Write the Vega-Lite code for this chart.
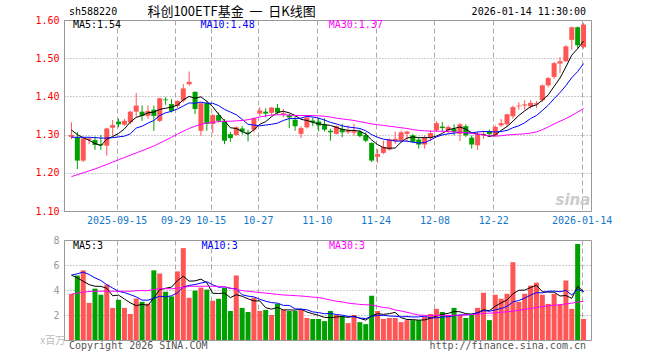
{
  "$schema": "https://vega.github.io/schema/vega-lite/v6.json",
  "background": "white",
  "padding": {"left": 34, "top": 5, "right": 5, "bottom": 2},
  "bounds": "flush",
  "spacing": 29,
  "config": {
    "view": {"stroke": "#999999", "strokeWidth": 1},
    "axis": {"labelFont": "DejaVu Sans Mono", "labelFontSize": 10, "title": null, "domain": false, "ticks": false, "labelOverlap": false},
    "text": {"font": "DejaVu Sans Mono", "fontSize": 10}
  },
  "datasets": {
    "k": [
      {"i":0,"d":"2025-09-03","o":1.294,"h":1.332,"l":1.288,"c":1.299,"m5":1.312,"m10":1.293,"m30":1.190,"v":3.68,"v5":5.19,"v10":5.19,"v30":3.68},
      {"i":1,"d":"2025-09-04","o":1.293,"h":1.307,"l":1.210,"c":1.232,"m5":1.300,"m10":1.293,"m30":1.195,"v":5.16,"v5":4.97,"v10":5.30,"v30":3.75},
      {"i":2,"d":"2025-09-05","o":1.232,"h":1.292,"l":1.228,"c":1.290,"m5":1.292,"m10":1.293,"m30":1.200,"v":5.57,"v5":4.70,"v10":5.43,"v30":3.82},
      {"i":3,"d":"2025-09-08","o":1.286,"h":1.293,"l":1.275,"c":1.290,"m5":1.285,"m10":1.293,"m30":1.205,"v":2.97,"v5":4.43,"v10":5.24,"v30":3.88},
      {"i":4,"d":"2025-09-09","o":1.286,"h":1.295,"l":1.260,"c":1.273,"m5":1.277,"m10":1.292,"m30":1.210,"v":4.11,"v5":4.30,"v10":4.97,"v30":3.90},
      {"i":5,"d":"2025-09-10","o":1.275,"h":1.299,"l":1.260,"c":1.272,"m5":1.271,"m10":1.291,"m30":1.216,"v":3.62,"v5":4.29,"v10":4.76,"v30":3.90},
      {"i":6,"d":"2025-09-11","o":1.271,"h":1.318,"l":1.245,"c":1.316,"m5":1.288,"m10":1.291,"m30":1.222,"v":4.43,"v5":4.14,"v10":4.43,"v30":3.90},
      {"i":7,"d":"2025-09-12","o":1.318,"h":1.338,"l":1.297,"c":1.325,"m5":1.295,"m10":1.292,"m30":1.228,"v":2.57,"v5":3.54,"v10":4.16,"v30":3.90},
      {"i":8,"d":"2025-09-15","o":1.334,"h":1.342,"l":1.319,"c":1.327,"m5":1.303,"m10":1.294,"m30":1.234,"v":3.22,"v5":3.59,"v10":3.89,"v30":3.90},
      {"i":9,"d":"2025-09-16","o":1.326,"h":1.341,"l":1.323,"c":1.336,"m5":1.315,"m10":1.296,"m30":1.240,"v":2.57,"v5":3.28,"v10":3.79,"v30":3.90},
      {"i":10,"d":"2025-09-17","o":1.332,"h":1.362,"l":1.327,"c":1.360,"m5":1.333,"m10":1.302,"m30":1.246,"v":2.08,"v5":2.97,"v10":3.63,"v30":3.90},
      {"i":11,"d":"2025-09-18","o":1.360,"h":1.409,"l":1.345,"c":1.376,"m5":1.345,"m10":1.317,"m30":1.252,"v":3.32,"v5":2.75,"v10":3.45,"v30":3.95},
      {"i":12,"d":"2025-09-19","o":1.360,"h":1.376,"l":1.336,"c":1.349,"m5":1.350,"m10":1.322,"m30":1.258,"v":3.05,"v5":2.85,"v10":3.19,"v30":3.95},
      {"i":13,"d":"2025-09-22","o":1.349,"h":1.376,"l":1.341,"c":1.362,"m5":1.357,"m10":1.330,"m30":1.264,"v":2.90,"v5":2.78,"v10":3.19,"v30":3.95},
      {"i":14,"d":"2025-09-23","o":1.365,"h":1.376,"l":1.310,"c":1.349,"m5":1.359,"m10":1.337,"m30":1.270,"v":5.57,"v5":3.38,"v10":3.33,"v30":4.05},
      {"i":15,"d":"2025-09-24","o":1.336,"h":1.397,"l":1.333,"c":1.395,"m5":1.366,"m10":1.350,"m30":1.278,"v":5.32,"v5":4.03,"v10":3.50,"v30":4.10},
      {"i":16,"d":"2025-09-25","o":1.392,"h":1.398,"l":1.378,"c":1.390,"m5":1.369,"m10":1.357,"m30":1.285,"v":3.86,"v5":4.14,"v10":3.45,"v30":4.10},
      {"i":17,"d":"2025-09-26","o":1.380,"h":1.393,"l":1.358,"c":1.362,"m5":1.372,"m10":1.361,"m30":1.293,"v":3.49,"v5":4.23,"v10":3.54,"v30":4.10},
      {"i":18,"d":"2025-09-29","o":1.375,"h":1.390,"l":1.370,"c":1.388,"m5":1.377,"m10":1.367,"m30":1.301,"v":5.49,"v5":4.75,"v10":3.77,"v30":4.15},
      {"i":19,"d":"2025-09-30","o":1.389,"h":1.432,"l":1.384,"c":1.421,"m5":1.391,"m10":1.375,"m30":1.309,"v":7.35,"v5":5.10,"v10":4.24,"v30":4.20},
      {"i":20,"d":"2025-10-09","o":1.432,"h":1.465,"l":1.428,"c":1.438,"m5":1.400,"m10":1.383,"m30":1.316,"v":3.38,"v5":4.71,"v10":4.37,"v30":4.30},
      {"i":21,"d":"2025-10-10","o":1.412,"h":1.413,"l":1.354,"c":1.367,"m5":1.395,"m10":1.382,"m30":1.322,"v":3.95,"v5":4.73,"v10":4.44,"v30":4.30},
      {"i":22,"d":"2025-10-13","o":1.310,"h":1.384,"l":1.297,"c":1.382,"m5":1.399,"m10":1.385,"m30":1.327,"v":4.19,"v5":4.87,"v10":4.55,"v30":4.30},
      {"i":23,"d":"2025-10-14","o":1.382,"h":1.389,"l":1.310,"c":1.328,"m5":1.387,"m10":1.382,"m30":1.330,"v":4.03,"v5":4.58,"v10":4.66,"v30":4.30},
      {"i":24,"d":"2025-10-15","o":1.328,"h":1.354,"l":1.304,"c":1.351,"m5":1.373,"m10":1.382,"m30":1.332,"v":3.14,"v5":3.74,"v10":4.42,"v30":4.30},
      {"i":25,"d":"2025-10-16","o":1.351,"h":1.358,"l":1.332,"c":1.336,"m5":1.353,"m10":1.376,"m30":1.334,"v":3.30,"v5":3.72,"v10":4.22,"v30":4.30},
      {"i":26,"d":"2025-10-17","o":1.336,"h":1.341,"l":1.275,"c":1.284,"m5":1.336,"m10":1.366,"m30":1.335,"v":4.16,"v5":3.76,"v10":4.25,"v30":4.25},
      {"i":27,"d":"2025-10-20","o":1.301,"h":1.307,"l":1.281,"c":1.291,"m5":1.318,"m10":1.359,"m30":1.335,"v":2.32,"v5":3.39,"v10":4.13,"v30":4.15},
      {"i":28,"d":"2025-10-21","o":1.299,"h":1.322,"l":1.297,"c":1.319,"m5":1.316,"m10":1.352,"m30":1.336,"v":5.16,"v5":3.62,"v10":4.10,"v30":4.05},
      {"i":29,"d":"2025-10-22","o":1.316,"h":1.322,"l":1.300,"c":1.308,"m5":1.308,"m10":1.340,"m30":1.337,"v":2.57,"v5":3.50,"v10":3.62,"v30":3.95},
      {"i":30,"d":"2025-10-23","o":1.306,"h":1.313,"l":1.282,"c":1.303,"m5":1.301,"m10":1.327,"m30":1.339,"v":2.24,"v5":3.29,"v10":3.51,"v30":3.90},
      {"i":31,"d":"2025-10-24","o":1.313,"h":1.345,"l":1.306,"c":1.343,"m5":1.313,"m10":1.325,"m30":1.342,"v":3.38,"v5":3.13,"v10":3.45,"v30":3.85},
      {"i":32,"d":"2025-10-27","o":1.355,"h":1.372,"l":1.348,"c":1.363,"m5":1.327,"m10":1.323,"m30":1.346,"v":2.32,"v5":3.13,"v10":3.26,"v30":3.80},
      {"i":33,"d":"2025-10-28","o":1.360,"h":1.369,"l":1.345,"c":1.355,"m5":1.334,"m10":1.325,"m30":1.349,"v":2.41,"v5":2.58,"v10":3.10,"v30":3.75},
      {"i":34,"d":"2025-10-29","o":1.357,"h":1.372,"l":1.350,"c":1.371,"m5":1.347,"m10":1.327,"m30":1.351,"v":2.00,"v5":2.47,"v10":2.99,"v30":3.70},
      {"i":35,"d":"2025-10-30","o":1.370,"h":1.380,"l":1.352,"c":1.358,"m5":1.358,"m10":1.330,"m30":1.352,"v":2.89,"v5":2.60,"v10":2.95,"v30":3.65},
      {"i":36,"d":"2025-10-31","o":1.352,"h":1.367,"l":1.345,"c":1.356,"m5":1.361,"m10":1.337,"m30":1.352,"v":2.41,"v5":2.41,"v10":2.77,"v30":3.60},
      {"i":37,"d":"2025-11-03","o":1.351,"h":1.354,"l":1.317,"c":1.345,"m5":1.357,"m10":1.342,"m30":1.351,"v":2.32,"v5":2.41,"v10":2.77,"v30":3.58},
      {"i":38,"d":"2025-11-04","o":1.339,"h":1.350,"l":1.310,"c":1.322,"m5":1.350,"m10":1.342,"m30":1.350,"v":2.32,"v5":2.39,"v10":2.49,"v30":3.55},
      {"i":39,"d":"2025-11-05","o":1.302,"h":1.322,"l":1.291,"c":1.317,"m5":1.340,"m10":1.343,"m30":1.350,"v":2.41,"v5":2.47,"v10":2.47,"v30":3.52},
      {"i":40,"d":"2025-11-06","o":1.319,"h":1.348,"l":1.316,"c":1.345,"m5":1.337,"m10":1.348,"m30":1.350,"v":1.76,"v5":2.24,"v10":2.42,"v30":3.48},
      {"i":41,"d":"2025-11-07","o":1.337,"h":1.345,"l":1.322,"c":1.332,"m5":1.332,"m10":1.346,"m30":1.350,"v":1.68,"v5":2.10,"v10":2.25,"v30":3.43},
      {"i":42,"d":"2025-11-10","o":1.334,"h":1.343,"l":1.308,"c":1.324,"m5":1.328,"m10":1.343,"m30":1.349,"v":1.68,"v5":1.97,"v10":2.19,"v30":3.40},
      {"i":43,"d":"2025-11-11","o":1.326,"h":1.343,"l":1.308,"c":1.313,"m5":1.326,"m10":1.338,"m30":1.348,"v":1.51,"v5":1.81,"v10":2.10,"v30":3.30},
      {"i":44,"d":"2025-11-12","o":1.310,"h":1.315,"l":1.284,"c":1.306,"m5":1.324,"m10":1.332,"m30":1.346,"v":2.32,"v5":1.79,"v10":2.13,"v30":3.20},
      {"i":45,"d":"2025-11-13","o":1.302,"h":1.324,"l":1.300,"c":1.322,"m5":1.319,"m10":1.328,"m30":1.343,"v":2.00,"v5":1.84,"v10":2.04,"v30":3.10},
      {"i":46,"d":"2025-11-14","o":1.315,"h":1.328,"l":1.293,"c":1.306,"m5":1.314,"m10":1.323,"m30":1.341,"v":1.89,"v5":1.88,"v10":1.99,"v30":3.05},
      {"i":47,"d":"2025-11-17","o":1.306,"h":1.324,"l":1.302,"c":1.310,"m5":1.311,"m10":1.320,"m30":1.339,"v":1.35,"v5":1.81,"v10":1.89,"v30":2.95},
      {"i":48,"d":"2025-11-18","o":1.305,"h":1.328,"l":1.297,"c":1.309,"m5":1.311,"m10":1.318,"m30":1.337,"v":2.00,"v5":1.91,"v10":1.86,"v30":2.90},
      {"i":49,"d":"2025-11-19","o":1.308,"h":1.313,"l":1.293,"c":1.296,"m5":1.309,"m10":1.316,"m30":1.334,"v":1.43,"v5":1.73,"v10":1.76,"v30":2.85},
      {"i":50,"d":"2025-11-20","o":1.299,"h":1.306,"l":1.280,"c":1.284,"m5":1.301,"m10":1.310,"m30":1.331,"v":1.27,"v5":1.59,"v10":1.71,"v30":2.82},
      {"i":51,"d":"2025-11-21","o":1.278,"h":1.280,"l":1.228,"c":1.232,"m5":1.286,"m10":1.300,"m30":1.328,"v":3.54,"v5":1.92,"v10":1.90,"v30":2.80},
      {"i":52,"d":"2025-11-24","o":1.242,"h":1.262,"l":1.226,"c":1.249,"m5":1.274,"m10":1.293,"m30":1.326,"v":2.32,"v5":2.11,"v10":1.96,"v30":2.70},
      {"i":53,"d":"2025-11-25","o":1.252,"h":1.284,"l":1.249,"c":1.267,"m5":1.266,"m10":1.288,"m30":1.324,"v":1.68,"v5":2.05,"v10":1.98,"v30":2.60},
      {"i":54,"d":"2025-11-26","o":1.261,"h":1.290,"l":1.258,"c":1.287,"m5":1.264,"m10":1.286,"m30":1.322,"v":1.76,"v5":2.11,"v10":1.92,"v30":2.55},
      {"i":55,"d":"2025-11-27","o":1.283,"h":1.308,"l":1.276,"c":1.289,"m5":1.265,"m10":1.283,"m30":1.320,"v":1.76,"v5":2.21,"v10":1.90,"v30":2.40},
      {"i":56,"d":"2025-11-28","o":1.284,"h":1.310,"l":1.282,"c":1.306,"m5":1.280,"m10":1.283,"m30":1.318,"v":1.43,"v5":1.79,"v10":1.85,"v30":2.32},
      {"i":57,"d":"2025-12-01","o":1.302,"h":1.310,"l":1.280,"c":1.308,"m5":1.291,"m10":1.283,"m30":1.316,"v":1.59,"v5":1.64,"v10":1.88,"v30":2.22},
      {"i":58,"d":"2025-12-02","o":1.298,"h":1.302,"l":1.279,"c":1.281,"m5":1.294,"m10":1.280,"m30":1.313,"v":1.59,"v5":1.63,"v10":1.84,"v30":2.10},
      {"i":59,"d":"2025-12-03","o":1.287,"h":1.292,"l":1.263,"c":1.274,"m5":1.292,"m10":1.278,"m30":1.311,"v":1.59,"v5":1.59,"v10":1.85,"v30":2.00},
      {"i":60,"d":"2025-12-04","o":1.274,"h":1.298,"l":1.263,"c":1.292,"m5":1.292,"m10":1.279,"m30":1.310,"v":1.84,"v5":1.61,"v10":1.91,"v30":1.97},
      {"i":61,"d":"2025-12-05","o":1.292,"h":1.311,"l":1.283,"c":1.304,"m5":1.292,"m10":1.286,"m30":1.309,"v":2.08,"v5":1.74,"v10":1.76,"v30":1.97},
      {"i":62,"d":"2025-12-08","o":1.311,"h":1.335,"l":1.307,"c":1.330,"m5":1.296,"m10":1.294,"m30":1.309,"v":2.49,"v5":1.92,"v10":1.78,"v30":1.97},
      {"i":63,"d":"2025-12-09","o":1.321,"h":1.333,"l":1.307,"c":1.317,"m5":1.303,"m10":1.299,"m30":1.309,"v":2.24,"v5":2.05,"v10":1.84,"v30":1.97},
      {"i":64,"d":"2025-12-10","o":1.311,"h":1.324,"l":1.302,"c":1.320,"m5":1.313,"m10":1.302,"m30":1.308,"v":2.00,"v5":2.13,"v10":1.86,"v30":1.97},
      {"i":65,"d":"2025-12-11","o":1.315,"h":1.327,"l":1.298,"c":1.307,"m5":1.316,"m10":1.304,"m30":1.307,"v":2.57,"v5":2.28,"v10":1.94,"v30":1.98},
      {"i":66,"d":"2025-12-12","o":1.302,"h":1.330,"l":1.283,"c":1.327,"m5":1.320,"m10":1.306,"m30":1.306,"v":2.00,"v5":2.26,"v10":2.00,"v30":1.99},
      {"i":67,"d":"2025-12-15","o":1.322,"h":1.327,"l":1.294,"c":1.298,"m5":1.314,"m10":1.305,"m30":1.305,"v":1.76,"v5":2.11,"v10":2.02,"v30":2.00},
      {"i":68,"d":"2025-12-16","o":1.292,"h":1.298,"l":1.263,"c":1.274,"m5":1.305,"m10":1.304,"m30":1.303,"v":2.00,"v5":2.07,"v10":2.06,"v30":2.03},
      {"i":69,"d":"2025-12-17","o":1.272,"h":1.307,"l":1.260,"c":1.300,"m5":1.301,"m10":1.307,"m30":1.301,"v":2.57,"v5":2.18,"v10":2.16,"v30":2.07},
      {"i":70,"d":"2025-12-18","o":1.299,"h":1.311,"l":1.289,"c":1.302,"m5":1.300,"m10":1.308,"m30":1.299,"v":3.78,"v5":2.42,"v10":2.35,"v30":2.12},
      {"i":71,"d":"2025-12-19","o":1.307,"h":1.313,"l":1.294,"c":1.301,"m5":1.295,"m10":1.308,"m30":1.297,"v":1.59,"v5":2.34,"v10":2.30,"v30":2.15},
      {"i":72,"d":"2025-12-22","o":1.298,"h":1.324,"l":1.295,"c":1.320,"m5":1.299,"m10":1.307,"m30":1.296,"v":3.62,"v5":2.71,"v10":2.41,"v30":2.18},
      {"i":73,"d":"2025-12-23","o":1.324,"h":1.341,"l":1.320,"c":1.330,"m5":1.311,"m10":1.308,"m30":1.297,"v":3.30,"v5":2.97,"v10":2.52,"v30":2.22},
      {"i":74,"d":"2025-12-24","o":1.327,"h":1.355,"l":1.321,"c":1.353,"m5":1.321,"m10":1.311,"m30":1.299,"v":3.70,"v5":3.20,"v10":2.69,"v30":2.26},
      {"i":75,"d":"2025-12-25","o":1.348,"h":1.376,"l":1.342,"c":1.372,"m5":1.335,"m10":1.318,"m30":1.300,"v":6.22,"v5":3.69,"v10":3.05,"v30":2.30},
      {"i":76,"d":"2025-12-26","o":1.374,"h":1.385,"l":1.365,"c":1.376,"m5":1.350,"m10":1.323,"m30":1.301,"v":3.05,"v5":3.98,"v10":3.16,"v30":2.38},
      {"i":77,"d":"2025-12-29","o":1.376,"h":1.390,"l":1.365,"c":1.379,"m5":1.362,"m10":1.331,"m30":1.302,"v":3.70,"v5":3.99,"v10":3.35,"v30":2.45},
      {"i":78,"d":"2025-12-30","o":1.374,"h":1.390,"l":1.368,"c":1.383,"m5":1.373,"m10":1.342,"m30":1.304,"v":4.35,"v5":4.20,"v10":3.59,"v30":2.52},
      {"i":79,"d":"2025-12-31","o":1.379,"h":1.388,"l":1.370,"c":1.382,"m5":1.378,"m10":1.350,"m30":1.307,"v":4.59,"v5":4.38,"v10":3.79,"v30":2.60},
      {"i":80,"d":"2026-01-05","o":1.390,"h":1.431,"l":1.385,"c":1.429,"m5":1.390,"m10":1.363,"m30":1.313,"v":3.62,"v5":3.86,"v10":3.77,"v30":2.68},
      {"i":81,"d":"2026-01-06","o":1.429,"h":1.451,"l":1.424,"c":1.448,"m5":1.404,"m10":1.377,"m30":1.320,"v":2.89,"v5":3.83,"v10":3.90,"v30":2.73},
      {"i":82,"d":"2026-01-07","o":1.451,"h":1.490,"l":1.446,"c":1.487,"m5":1.426,"m10":1.394,"m30":1.328,"v":3.70,"v5":3.83,"v10":3.91,"v30":2.78},
      {"i":83,"d":"2026-01-08","o":1.486,"h":1.503,"l":1.461,"c":1.492,"m5":1.448,"m10":1.410,"m30":1.335,"v":2.81,"v5":3.52,"v10":3.86,"v30":2.83},
      {"i":84,"d":"2026-01-09","o":1.492,"h":1.534,"l":1.490,"c":1.531,"m5":1.477,"m10":1.428,"m30":1.342,"v":4.76,"v5":3.56,"v10":3.97,"v30":2.88},
      {"i":85,"d":"2026-01-12","o":1.548,"h":1.583,"l":1.522,"c":1.581,"m5":1.508,"m10":1.449,"m30":1.350,"v":2.49,"v5":3.33,"v10":3.60,"v30":2.95},
      {"i":86,"d":"2026-01-13","o":1.581,"h":1.583,"l":1.525,"c":1.534,"m5":1.525,"m10":1.465,"m30":1.359,"v":7.68,"v5":4.29,"v10":4.06,"v30":3.03},
      {"i":87,"d":"2026-01-14","o":1.529,"h":1.592,"l":1.525,"c":1.588,"m5":1.545,"m10":1.486,"m30":1.368,"v":1.68,"v5":3.88,"v10":3.86,"v30":3.10}
    ]
  },
  "vconcat": [
    {
      "width": 527,
      "height": 191,
      "data": {"name": "k"},
      "layer": [
        {
          "mark": {"type": "rule", "strokeWidth": 1},
          "encoding": {
            "x": {"field": "i", "type": "quantitative",
              "scale": {"domain": [-0.4167, 87.4167], "nice": false, "zero": false},
              "axis": {"values": [7.6667, 17.6667, 23.6667, 31.6667, 41.6667, 51.6667, 61.6667, 71.6667, 86.6667],
                "labelExpr": "datum.value < 10 ? '2025-09-15' : datum.value < 20 ? '09-29' : datum.value < 25 ? '10-15' : datum.value < 35 ? '10-27' : datum.value < 45 ? '11-10' : datum.value < 55 ? '11-24' : datum.value < 65 ? '12-08' : datum.value < 75 ? '12-22' : '2026-01-14'",
                "labelColor": "#1478c8", "labelPadding": 4, "labelFlush": 8, "labelOverlap": false,
                "grid": true, "gridColor": "#aaaaaa", "gridDash": [5, 3]}},
            "y": {"field": "l", "type": "quantitative",
              "scale": {"domain": [1.1, 1.6], "nice": false, "zero": false},
              "axis": {"values": [1.1, 1.2, 1.3, 1.4, 1.5, 1.6], "format": ".2f", "labelColor": "#ff0000", "labelPadding": 5, "labelOverlap": false, "labelSeparation": 0, "tickCount": 6,
                "grid": true, "gridColor": "#999999", "gridDash": [1, 2]}},
            "y2": {"field": "h"},
            "color": {"condition": {"test": "datum.c >= datum.o", "value": "#ff5555"}, "value": "#00a000"}
          }
        },
        {
          "mark": {"type": "bar", "size": 5},
          "encoding": {
            "x": {"field": "i", "type": "quantitative"},
            "y": {"field": "o", "type": "quantitative"},
            "y2": {"field": "c"},
            "color": {"condition": {"test": "datum.c >= datum.o", "value": "#ff5555"}, "value": "#00a000"}
          }
        },
        {
          "mark": {"type": "line", "color": "#000000", "strokeWidth": 1},
          "encoding": {"x": {"field": "i", "type": "quantitative"}, "y": {"field": "m5", "type": "quantitative"}}
        },
        {
          "mark": {"type": "line", "color": "#0000ff", "strokeWidth": 1},
          "encoding": {"x": {"field": "i", "type": "quantitative"}, "y": {"field": "m10", "type": "quantitative"}}
        },
        {
          "mark": {"type": "line", "color": "#ff00ff", "strokeWidth": 1},
          "encoding": {"x": {"field": "i", "type": "quantitative"}, "y": {"field": "m30", "type": "quantitative"}}
        },
        {
          "data": {"values": [{}]},
          "mark": {"type": "text", "text": "MA5:1.54", "align": "left", "baseline": "middle", "color": "#000000"},
          "encoding": {"x": {"datum": 0.25, "type": "quantitative"}, "y": {"datum": 1.586, "type": "quantitative"}}
        },
        {
          "data": {"values": [{}]},
          "mark": {"type": "text", "text": "MA10:1.48", "align": "left", "baseline": "middle", "color": "#0000ff"},
          "encoding": {"x": {"datum": 21.92, "type": "quantitative"}, "y": {"datum": 1.586, "type": "quantitative"}}
        },
        {
          "data": {"values": [{}]},
          "mark": {"type": "text", "text": "MA30:1.37", "align": "left", "baseline": "middle", "color": "#ff00ff"},
          "encoding": {"x": {"datum": 43.7, "type": "quantitative"}, "y": {"datum": 1.586, "type": "quantitative"}}
        },
        {
          "data": {"values": [{}]},
          "mark": {"type": "text", "text": "sh588220", "align": "left", "baseline": "middle", "color": "#000000"},
          "encoding": {"x": {"datum": -0.4167, "type": "quantitative"}, "y": {"datum": 1.621, "type": "quantitative"}}
        },
        {
          "data": {"values": [{}]},
          "mark": {"type": "text", "text": "科创100ETF基金\u00a0\u00a0一\u00a0\u00a0日K线图", "align": "center", "baseline": "middle", "color": "#000000", "font": "Noto Sans CJK SC", "fontSize": 13},
          "encoding": {"x": {"datum": 27.2, "type": "quantitative"}, "y": {"datum": 1.622, "type": "quantitative"}}
        },
        {
          "data": {"values": [{}]},
          "mark": {"type": "text", "text": "2026-01-14 11:30:00", "align": "right", "baseline": "middle", "color": "#000000"},
          "encoding": {"x": {"datum": 87.4167, "type": "quantitative"}, "y": {"datum": 1.621, "type": "quantitative"}}
        },
        {
          "data": {"values": [{}]},
          "mark": {"type": "text", "text": "sina", "align": "center", "baseline": "middle", "color": "#cccccc", "font": "DejaVu Sans", "fontSize": 15, "fontStyle": "italic", "fontWeight": "bold"},
          "encoding": {"x": {"datum": 85.2, "type": "quantitative"}, "y": {"datum": 1.13, "type": "quantitative"}}
        }
      ]
    },
    {
      "width": 527,
      "height": 100,
      "data": {"name": "k"},
      "layer": [
        {
          "mark": {"type": "bar", "size": 5},
          "encoding": {
            "x": {"field": "i", "type": "quantitative",
              "scale": {"domain": [-0.4167, 87.4167], "nice": false, "zero": false},
              "axis": {"values": [7.6667, 17.6667, 23.6667, 31.6667, 41.6667, 51.6667, 61.6667, 71.6667, 86.6667],
                "labels": false, "grid": true, "gridColor": "#aaaaaa", "gridDash": [5, 3]}},
            "y": {"field": "v", "type": "quantitative",
              "scale": {"domain": [0, 8], "nice": false},
              "axis": {"values": [2, 4, 6, 8], "labelColor": "#999999", "labelPadding": 5, "labelOverlap": false, "labelSeparation": 0, "tickCount": 4,
                "grid": true, "gridColor": "#999999", "gridDash": [1, 2]}},
            "color": {"condition": {"test": "datum.c >= datum.o", "value": "#ff5555"}, "value": "#00a000"}
          }
        },
        {
          "mark": {"type": "line", "color": "#000000", "strokeWidth": 1},
          "encoding": {"x": {"field": "i", "type": "quantitative"}, "y": {"field": "v5", "type": "quantitative"}}
        },
        {
          "mark": {"type": "line", "color": "#0000ff", "strokeWidth": 1},
          "encoding": {"x": {"field": "i", "type": "quantitative"}, "y": {"field": "v10", "type": "quantitative"}}
        },
        {
          "mark": {"type": "line", "color": "#ff00ff", "strokeWidth": 1},
          "encoding": {"x": {"field": "i", "type": "quantitative"}, "y": {"field": "v30", "type": "quantitative"}}
        },
        {
          "data": {"values": [{}]},
          "mark": {"type": "text", "text": "MA5:3", "align": "left", "baseline": "middle", "color": "#000000"},
          "encoding": {"x": {"datum": 0.25, "type": "quantitative"}, "y": {"datum": 7.52, "type": "quantitative"}}
        },
        {
          "data": {"values": [{}]},
          "mark": {"type": "text", "text": "MA10:3", "align": "left", "baseline": "middle", "color": "#0000ff"},
          "encoding": {"x": {"datum": 22.1, "type": "quantitative"}, "y": {"datum": 7.52, "type": "quantitative"}}
        },
        {
          "data": {"values": [{}]},
          "mark": {"type": "text", "text": "MA30:3", "align": "left", "baseline": "middle", "color": "#ff00ff"},
          "encoding": {"x": {"datum": 43.75, "type": "quantitative"}, "y": {"datum": 7.52, "type": "quantitative"}}
        },
        {
          "data": {"values": [{}]},
          "mark": {"type": "text", "text": "Copyright 2026 SINA.COM", "align": "left", "baseline": "middle", "color": "#555555"},
          "encoding": {"x": {"datum": -0.4167, "type": "quantitative"}, "y": {"datum": -0.45, "type": "quantitative"}}
        },
        {
          "data": {"values": [{}]},
          "mark": {"type": "text", "text": "http://finance.sina.com.cn", "align": "right", "baseline": "middle", "color": "#555555"},
          "encoding": {"x": {"datum": 87.4167, "type": "quantitative"}, "y": {"datum": -0.45, "type": "quantitative"}}
        },
        {
          "data": {"values": [{}]},
          "mark": {"type": "text", "text": "x百万", "align": "left", "baseline": "middle", "color": "#bbbbbb", "font": "Noto Sans CJK SC", "fontSize": 10},
          "encoding": {"x": {"datum": -5.3, "type": "quantitative"}, "y": {"datum": -0.1, "type": "quantitative"}}
        }
      ]
    }
  ]
}
